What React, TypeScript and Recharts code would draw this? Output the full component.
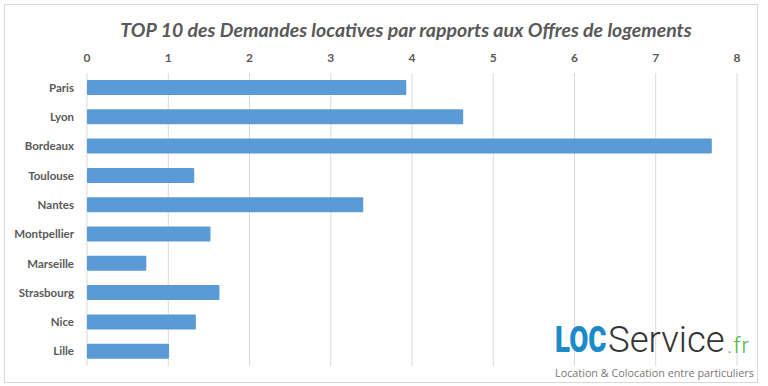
import React from "react";
import { BarChart, Bar, XAxis, YAxis, CartesianGrid } from "recharts";

const cities = ["Paris", "Lyon", "Bordeaux", "Toulouse", "Nantes", "Montpellier", "Marseille", "Strasbourg", "Nice", "Lille"];
const ratios = [3.93, 4.63, 7.69, 1.32, 3.4, 1.52, 0.73, 1.63, 1.34, 1.01];
const xTicks = [0, 1, 2, 3, 4, 5, 6, 7, 8];
const title = "TOP 10 des Demandes locatives par rapports aux Offres de logements";

const data = cities.map((name, i) => ({ name, value: ratios[i] }));

export default function App() {
  return (
    <div style={{ position: "absolute", left: 0, top: 0, width: 768, height: 386, background: "#fff", overflow: "hidden" }}>
      <div style={{ position: "absolute", left: 4, top: 4, width: 752, height: 377, border: "1px solid #d9d9d9" }} />
      <div
        style={{
          position: "absolute",
          left: 0,
          width: 768,
          top: 18,
          textAlign: "center",
          paddingLeft: 44,
          boxSizing: "border-box",
          fontFamily: "Lato, sans-serif",
          fontStyle: "italic",
          fontWeight: 700,
          fontSize: 19.5,
          lineHeight: "24px",
          color: "#595959",
          whiteSpace: "nowrap",
        }}
      >
        {title}
      </div>
      <div style={{ position: "absolute", left: 0, top: 0 }}>
        <BarChart
          width={768}
          height={386}
          data={data}
          layout="vertical"
          margin={{ top: 43, right: 31, bottom: 20, left: 0 }}
          barCategoryGap={7}
        >
          <CartesianGrid horizontal={false} vertical={true} stroke="#d9d9d9" />
          <XAxis
            type="number"
            orientation="top"
            domain={[0, 8]}
            ticks={xTicks}
            axisLine={false}
            tickLine={false}
            height={30}
            tickMargin={5}
            tick={{ fill: "#595959", fontSize: 12, fontWeight: 700, fontFamily: "Lato, sans-serif" }}
          />
          <YAxis
            type="category"
            dataKey="name"
            width={87}
            axisLine={false}
            tickLine={false}
            tickMargin={7}
            tick={{ fill: "#595959", fontSize: 11.5, fontWeight: 700, fontFamily: "Lato, sans-serif" }}
          />
          <Bar dataKey="value" fill="#5B9BD5" barSize={15} radius={1} isAnimationActive={false} />
        </BarChart>
      </div>
      <span style={{ position: "absolute", left: 555, top: 322, lineHeight: 1, whiteSpace: "nowrap", fontFamily: "Roboto, sans-serif", fontWeight: 900, fontSize: 36.5, color: "#1a8ac8", display: "inline-block", transform: "scaleX(0.76)", transformOrigin: "left top" }}>LOC</span>
      <span style={{ position: "absolute", left: 608, top: 322, lineHeight: 1, whiteSpace: "nowrap", fontFamily: "Roboto, sans-serif", fontWeight: 300, fontSize: 36.5, color: "#333" }}>Service</span>
      <span style={{ position: "absolute", left: 727, top: 334.5, lineHeight: 1, whiteSpace: "nowrap", fontFamily: "Roboto, sans-serif", fontWeight: 300, fontSize: 22, letterSpacing: 1, color: "#4db848" }}>.fr</span>
      <div style={{ position: "absolute", left: 555, top: 365, whiteSpace: "nowrap", fontFamily: "Open Sans, sans-serif", fontSize: 10.8, color: "#777" }}>
        Location &amp; Colocation entre particuliers
      </div>
    </div>
  );
}
